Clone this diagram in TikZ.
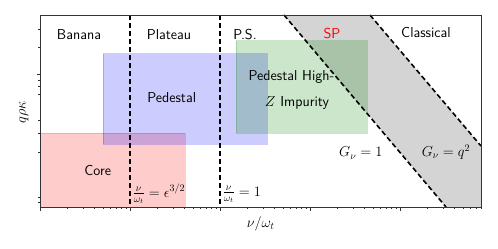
\documentclass[tikz,border=0pt]{standalone}
\usepackage{amsmath}
\begin{document}
\begin{tikzpicture}[x=1pt,y=-1pt,
  lbl/.style={font=\fontsize{14.4}{17}\sffamily, inner sep=0pt},
  mlbl/.style={font=\fontsize{14.4}{17}\selectfont, inner sep=0pt},
  bound/.style={line width=1.6pt, dash pattern=on 5pt off 3pt, line cap=butt},
  region/.style={line width=0.8pt, opacity=0.2},
  tk/.style={line width=0.6pt, black!80}]
\useasboundingbox (0,0) rectangle (498,249);
% gray band
\fill[black!17] (284,15) -- (370,15) -- (481,146) -- (481,207) -- (446,207) -- cycle;
% regions
\filldraw[region, fill=red, draw=red] (40,133.3) rectangle (185,207);
\filldraw[region, fill=blue, draw=blue] (103,53.7) rectangle (267,144);
\filldraw[region, fill=green!50!black, draw=green!50!black] (236,40.7) rectangle (367,133.3);
% boundaries
\coordinate (v1t) at (130,15); \coordinate (v1b) at (130,207);
\coordinate (v2t) at (220,15); \coordinate (v2b) at (220,207);
\coordinate (d1t) at (284,15); \coordinate (d1b) at (446,207);
\coordinate (d2t) at (370,15); \coordinate (d2b) at (481,146);
\draw[bound] (v1t) -- (v1b);
\draw[bound] (v2t) -- (v2b);
\draw[bound] (d1t) -- (d1b);
\draw[bound] (d2t) -- (d2b);
% frame
\draw[line width=0.8pt, black!80] (40,15) rectangle (481,207);
% x ticks
\foreach \d in {40,130,220,310,400}{
  \draw[tk] (\d,207) -- (\d,210.5);
  \foreach \k in {2,...,9}{
    \pgfmathsetmacro{\xx}{\d+90*log10(\k)}
    \pgfmathparse{\xx<481.5?1:0}
    \ifnum\pgfmathresult=1 \draw[tk] (\xx,207) -- (\xx,209);\fi
  }
}
% y ticks
\foreach \yy in {29,47.3,80,86.7,94,120,133.7,152.7,197.3,202.7}{
  \draw[tk] (40,\yy) -- (38,\yy);
}
\draw[tk] (40,74) -- (36.5,74);
% labels
\node[lbl] (banana) at (79,34.3) {Banana};
\node[lbl] (plateau) at (169,34.3) {Plateau};
\node[lbl] (ps) at (245,34.3) {P.S.};
\node[lbl, text=red] (sp) at (332,33.5) {SP};
\node[lbl] (classical) at (426,33) {Classical};
\node[lbl] (pedestal) at (171.7,97.7) {Pedestal};
\node[lbl] (pedhigh) at (291.5,76.7) {Pedestal High-};
\node[lbl] (impurity) at (297,102.7) {$Z$ Impurity};
\node[lbl] (core) at (97.7,170.7) {Core};
\node[mlbl, anchor=west] (eps) at (132.5,194) {$\frac{\nu}{\omega_t}=\epsilon^{3/2}$};
\node[mlbl, anchor=west] (one) at (222.5,194.5) {$\frac{\nu}{\omega_t}=1$};
\node[mlbl] (g1) at (360.8,153) {$G_\nu=1$};
\node[mlbl] (gq) at (446,152) {$G_\nu=q^2$};
\node[mlbl] (xlab) at (260.7,224) {$\nu/\omega_t$};
\node[mlbl, rotate=90] (ylab) at (24,112) {$q\rho\kappa$};
\end{tikzpicture}
\end{document}
